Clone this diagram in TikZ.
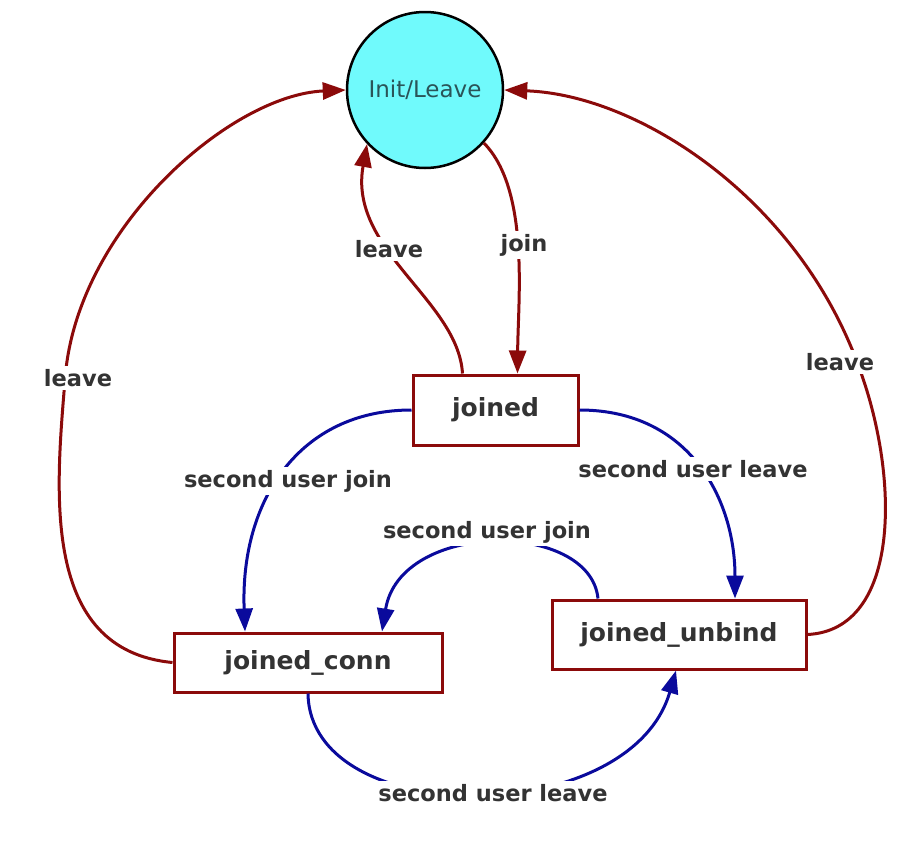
\documentclass[tikz,border=0pt]{standalone}
\usepackage{fontspec}
\setmainfont{DejaVu Sans}
\usetikzlibrary{arrows.meta}
\definecolor{edgered}{HTML}{8B0A0A}
\definecolor{edgeblue}{HTML}{0A0A9C}
\definecolor{cyanfill}{HTML}{70FAFC}
\definecolor{txtgray}{HTML}{333333}
\definecolor{inittxt}{HTML}{2A5458}
\tikzset{
  statebox/.style={draw=edgered, line width=3pt, fill=white, rectangle, inner sep=0pt,
    font=\fontsize{25}{30}\selectfont\bfseries, text=txtgray},
  lbl/.style={fill=white, inner sep=3pt, font=\fontsize{22.5}{27}\selectfont\bfseries, text=txtgray},
  redarr/.style={draw=edgered, line width=3pt, -{Triangle[length=23pt,width=17pt]}},
  bluearr/.style={draw=edgeblue, line width=3pt, -{Triangle[length=23pt,width=17pt]}},
}
\begin{document}
\begin{tikzpicture}[x=1pt,y=-1pt]
\useasboundingbox (0,0) rectangle (919,847);
% nodes
\node[circle, draw=black, line width=2.5pt, fill=cyanfill, minimum size=156pt, inner sep=0pt,
  font=\fontsize{23}{28}\selectfont, text=inittxt] (init) at (425,90) {Init/Leave};
\node[statebox, minimum width=165pt, minimum height=70pt] (joined) at (495.5,410) {joined};
\node[statebox, minimum width=268pt, minimum height=59pt] (jconn) at (308,662.5) {joined\_conn};
\node[statebox, minimum width=254pt, minimum height=69pt] (junbind) at (679,634.5) {joined\_unbind};
% red edges
\draw[redarr] (jconn.west) .. controls (40,650) and (56,490) .. (65,380)
  .. controls (75,230) and (230,95) .. (init.west);
\draw[redarr] ([xshift=-33pt]joined.north) .. controls (458,300) and (348,250) .. (init.223);
\draw[redarr] (init.-42) .. controls (530,190) and (518,300) .. ([xshift=22pt]joined.north);
\draw[redarr] (junbind.east) .. controls (900,630) and (900,480) .. (860,370)
  .. controls (800,200) and (640,95) .. (init.east);
% blue edges
\draw[bluearr] (joined.west) .. controls (300,410) and (240,500) .. ([xshift=-63pt]jconn.north);
\draw[bluearr] (joined.east) .. controls (690,410) and (735,500) .. ([xshift=56pt]junbind.north);
\draw[bluearr] ([xshift=-81pt]junbind.north) .. controls (590,520) and (400,520) .. ([xshift=74pt]jconn.north);
\draw[bluearr] (jconn.south) .. controls (310,830) and (630,830) .. ([xshift=-3pt]junbind.south);
% labels
\node[lbl] (l1) at (78,378) {leave};
\node[lbl] (l2) at (389,249) {leave};
\node[lbl] (l3) at (524,245) {join};
\node[lbl] (l4) at (840,362) {leave};
\node[lbl] (l5) at (288,481) {second user join};
\node[lbl] (l6) at (693,469) {second user leave};
\node[lbl] (l7) at (487,532) {second user join};
\node[lbl] (l8) at (493,793) {second user leave};
\end{tikzpicture}
\end{document}
